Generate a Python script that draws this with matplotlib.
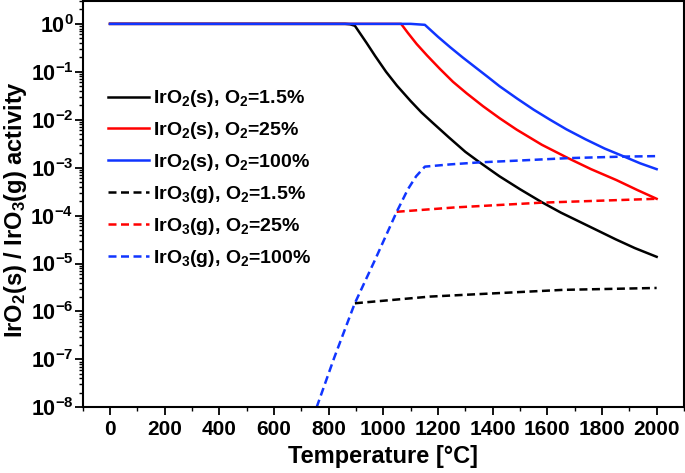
import numpy as np
import matplotlib
matplotlib.use("Agg")
import matplotlib.pyplot as plt
from matplotlib.ticker import FuncFormatter, LogLocator, MultipleLocator

# 温度 / activity values
t_s15 = [0, 860, 878, 896, 939, 970, 1010, 1050, 1100, 1140, 1180, 1240, 1300, 1350,
         1425, 1500, 1580, 1650, 1730, 1790, 1850, 1920, 2000]
a_s15 = [1.0, 1.0, 0.98, 0.912, 0.398, 0.214, 0.100, 0.0513, 0.0245, 0.0141, 8.7e-3,
         4.27e-3, 2.14e-3, 1.32e-3, 6.6e-4, 3.55e-4, 1.9e-4, 1.15e-4, 6.9e-5, 4.7e-5,
         3.2e-5, 2.1e-5, 1.38e-5]

t_s25 = [0, 1065, 1090, 1122, 1160, 1207, 1255, 1305, 1365, 1426, 1488, 1580, 1676,
         1760, 1853, 1930, 2000]
a_s25 = [1.0, 1.0, 0.646, 0.380, 0.219, 0.115, 0.0617, 0.0355, 0.0191, 0.0107, 6.2e-3,
         3.0e-3, 1.58e-3, 9.3e-4, 5.5e-4, 3.4e-4, 2.24e-4]

t_s100 = [0, 1100, 1152, 1200, 1245, 1290, 1340, 1385, 1425, 1490, 1550, 1610, 1670,
          1740, 1810, 1877, 1940, 2000]
a_s100 = [1.0, 1.0, 0.955, 0.537, 0.324, 0.200, 0.120, 0.0759, 0.0501, 0.0275, 0.0162,
          0.0100, 6.3e-3, 3.9e-3, 2.5e-3, 1.74e-3, 1.23e-3, 9.3e-4]

t_g15 = [896, 1170, 1414, 1658, 2000]
a_g15 = [1.48e-6, 2.04e-6, 2.4e-6, 2.82e-6, 3.09e-6]

t_g25 = [1049, 1262, 1579, 2000]
a_g25 = [1.2e-4, 1.48e-4, 1.86e-4, 2.24e-4]

t_g100 = [756, 820, 895, 969, 1049, 1090, 1120, 1152, 1245, 1353, 1500, 1676, 1877, 2000]
a_g100 = [1.0e-8, 1.07e-7, 1.45e-6, 1.17e-5, 1.2e-4, 3.55e-4, 6.6e-4, 1.05e-3, 1.17e-3,
          1.29e-3, 1.41e-3, 1.58e-3, 1.70e-3, 1.74e-3]

labels = [r"IrO$_2$(s), O$_2$=1.5%", r"IrO$_2$(s), O$_2$=25%", r"IrO$_2$(s), O$_2$=100%",
          r"IrO$_3$(g), O$_2$=1.5%", r"IrO$_3$(g), O$_2$=25%", r"IrO$_3$(g), O$_2$=100%"]


def main():
    plt.rcParams['font.family'] = ['Liberation Sans', 'DejaVu Sans']
    plt.rcParams['font.weight'] = 'bold'
    plt.rcParams['axes.labelweight'] = 'bold'
    plt.rcParams['mathtext.fontset'] = 'custom'
    plt.rcParams['mathtext.rm'] = 'Liberation Sans:bold'
    plt.rcParams['mathtext.bf'] = 'Liberation Sans:bold'
    plt.rcParams['mathtext.it'] = 'Liberation Sans:bold'
    plt.rcParams['mathtext.default'] = 'bf'

    fig = plt.figure(figsize=(6.85, 4.73), dpi=100)
    ax = fig.add_axes([0.1207, 0.1389, 0.8778, 0.859])

    blue = '#1035ff'
    red = '#ff0000'
    lw = 1.8
    dash = (0, (3.2, 1.8))

    ax.plot(t_s15, a_s15, color='black', lw=lw, label=labels[0])
    ax.plot(t_s25, a_s25, color=red, lw=lw, label=labels[1])
    ax.plot(t_s100, a_s100, color=blue, lw=lw, label=labels[2])
    ax.plot(t_g15, a_g15, color='black', lw=lw, ls=dash, label=labels[3])
    ax.plot(t_g25, a_g25, color=red, lw=lw, ls=dash, label=labels[4])
    ax.plot(t_g100, a_g100, color=blue, lw=lw, ls=dash, label=labels[5])

    ax.set_yscale('log')
    ax.set_xlim(-100, 2100)
    ax.set_ylim(1e-8, 3)

    ax.xaxis.set_major_locator(MultipleLocator(200))
    ax.xaxis.set_minor_locator(MultipleLocator(100))
    ax.yaxis.set_major_locator(LogLocator(base=10, numticks=20))
    ax.yaxis.set_minor_locator(LogLocator(base=10, subs=np.arange(2, 10), numticks=20))
    ax.yaxis.set_major_formatter(FuncFormatter(lambda v, p: r'$10^{%d}$' % round(np.log10(v))))

    ax.tick_params(which='major', direction='out', length=6, width=1.3, labelsize=15)
    ax.tick_params(axis='y', which='major', labelsize=15.5, pad=0.5)
    ax.tick_params(which='minor', direction='out', length=3, width=1.0)
    for s in ax.spines.values():
        s.set_linewidth(1.5)

    ax.set_xlabel('Temperature [°C]', fontsize=17, labelpad=4)
    ax.set_ylabel(r'IrO$_2$(s) / IrO$_3$(g) activity', fontsize=17)
    ax.yaxis.set_label_coords(-0.09, 0.488)

    ax.legend(loc='upper left', bbox_to_anchor=(0.042, 0.785), frameon=False,
              fontsize=14, handlelength=2.12, handletextpad=0.2,
              labelspacing=0.56, borderpad=0, borderaxespad=0)

    fig.savefig('out.png', dpi=100)


if __name__ == '__main__':
    main()
